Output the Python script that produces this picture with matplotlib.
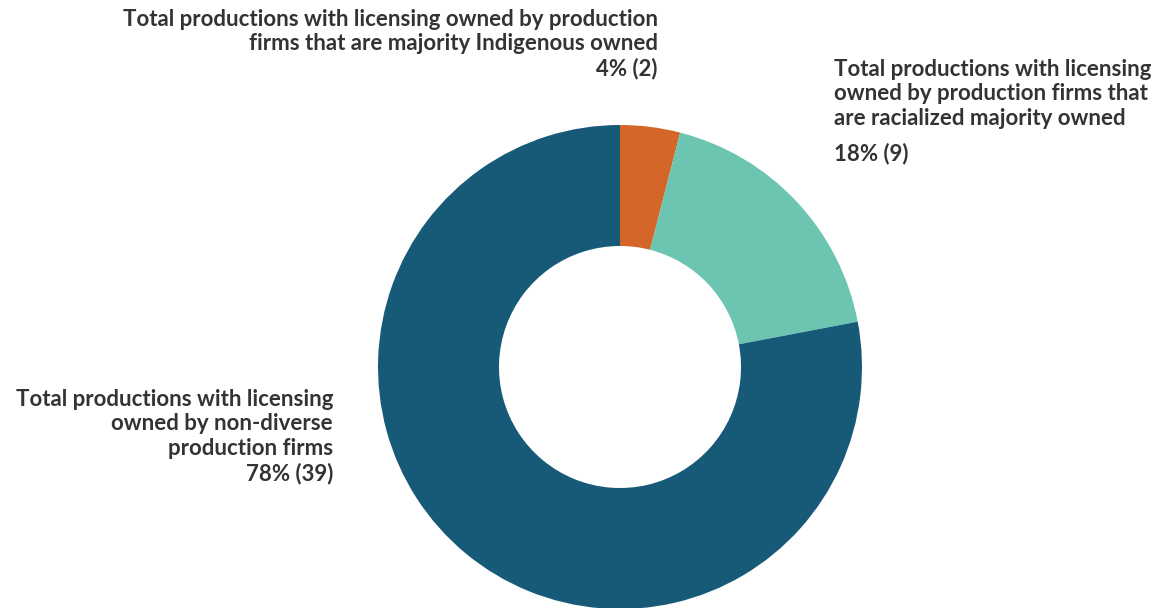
import matplotlib.pyplot as plt

# Daten
labels = [
    "Total productions with licensing owned by production\nfirms that are majority Indigenous owned",
    "Total productions with licensing\nowned by production firms that\nare racialized majority owned",
    "Total productions with licensing\nowned by non-diverse\nproduction firms",
]
counts = [2, 9, 39]
percents = ["4%", "18%", "78%"]
colors = ["#D4662A", "#6CC5B0", "#165A78"]

fig = plt.figure(figsize=(11.66, 6.08), dpi=100)
ax = fig.add_axes([0, 0, 1, 1])

# Donut: Mittelpunkt und Radius in Pixeln
ax.pie(counts, colors=colors, startangle=90, counterclock=False,
       radius=242, center=(620, 241), frame=False,
       wedgeprops=dict(width=121, edgecolor="none"))
ax.set_xlim(0, 1166)
ax.set_ylim(0, 608)
ax.set_aspect("equal")
ax.axis("off")

font = dict(family="Lato", weight="bold", size=16, color="#333333")

ax.text(658, 599, labels[0] + f"\n{percents[0]} ({counts[0]})",
        ha="right", va="top", multialignment="right", linespacing=1.2, **font)

ax.text(834, 549, labels[1], ha="left", va="top", linespacing=1.2, **font)
ax.text(834, 465, f"{percents[1]} ({counts[1]})", ha="left", va="top", **font)

ax.text(333, 219, labels[2] + f"\n{percents[2]} ({counts[2]})",
        ha="right", va="top", multialignment="right", linespacing=1.2, **font)

fig.savefig("out.png", dpi=100)
